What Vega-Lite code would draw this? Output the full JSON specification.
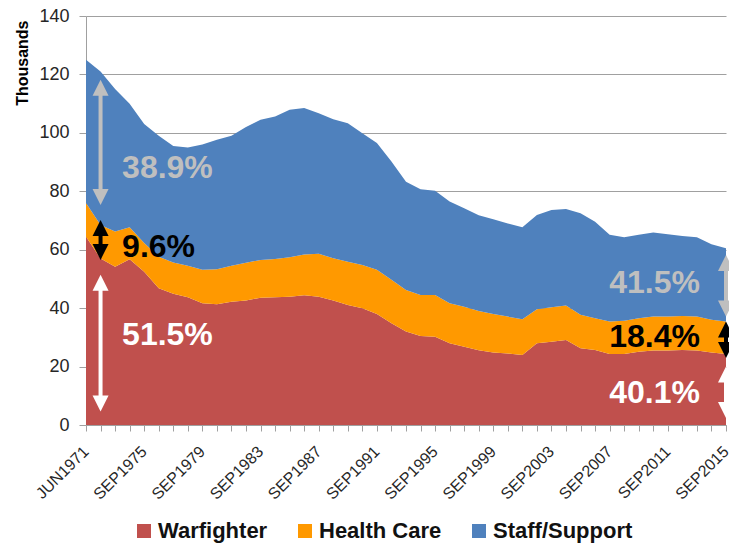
{
  "$schema": "https://vega.github.io/schema/vega-lite/v6.json",
  "autosize": {"type": "none"},
  "padding": {"left": 86, "top": 16, "right": 3, "bottom": 118},
  "width": 640,
  "height": 409,
  "background": "white",
  "config": {
    "font": "Liberation Sans",
    "view": {"stroke": null}
  },
  "datasets": {
    "seriesOrder": [
      {"series": "Warfighter", "rank": 1},
      {"series": "Health Care", "rank": 2},
      {"series": "Staff/Support", "rank": 3}
    ],
    "main": [
      {"period": "JUN1971", "series": "Warfighter", "value": 64.4}, {"period": "JUN1971", "series": "Health Care", "value": 11.6}, {"period": "JUN1971", "series": "Staff/Support", "value": 49.0},
      {"period": "SEP1972", "series": "Warfighter", "value": 57.0}, {"period": "SEP1972", "series": "Health Care", "value": 11.5}, {"period": "SEP1972", "series": "Staff/Support", "value": 52.5},
      {"period": "SEP1973", "series": "Warfighter", "value": 54.2}, {"period": "SEP1973", "series": "Health Care", "value": 12.0}, {"period": "SEP1973", "series": "Staff/Support", "value": 48.8},
      {"period": "SEP1974", "series": "Warfighter", "value": 56.7}, {"period": "SEP1974", "series": "Health Care", "value": 11.0}, {"period": "SEP1974", "series": "Staff/Support", "value": 42.3},
      {"period": "SEP1975", "series": "Warfighter", "value": 52.5}, {"period": "SEP1975", "series": "Health Care", "value": 9.8}, {"period": "SEP1975", "series": "Staff/Support", "value": 40.7},
      {"period": "SEP1976", "series": "Warfighter", "value": 46.8}, {"period": "SEP1976", "series": "Health Care", "value": 10.8}, {"period": "SEP1976", "series": "Staff/Support", "value": 41.4},
      {"period": "SEP1977", "series": "Warfighter", "value": 44.9}, {"period": "SEP1977", "series": "Health Care", "value": 10.7}, {"period": "SEP1977", "series": "Staff/Support", "value": 39.9},
      {"period": "SEP1978", "series": "Warfighter", "value": 43.7}, {"period": "SEP1978", "series": "Health Care", "value": 10.8}, {"period": "SEP1978", "series": "Staff/Support", "value": 40.5},
      {"period": "SEP1979", "series": "Warfighter", "value": 41.7}, {"period": "SEP1979", "series": "Health Care", "value": 11.4}, {"period": "SEP1979", "series": "Staff/Support", "value": 42.9},
      {"period": "SEP1980", "series": "Warfighter", "value": 41.3}, {"period": "SEP1980", "series": "Health Care", "value": 12.0}, {"period": "SEP1980", "series": "Staff/Support", "value": 44.3},
      {"period": "SEP1981", "series": "Warfighter", "value": 42.2}, {"period": "SEP1981", "series": "Health Care", "value": 12.3}, {"period": "SEP1981", "series": "Staff/Support", "value": 44.5},
      {"period": "SEP1982", "series": "Warfighter", "value": 42.6}, {"period": "SEP1982", "series": "Health Care", "value": 12.9}, {"period": "SEP1982", "series": "Staff/Support", "value": 46.5},
      {"period": "SEP1983", "series": "Warfighter", "value": 43.6}, {"period": "SEP1983", "series": "Health Care", "value": 12.9}, {"period": "SEP1983", "series": "Staff/Support", "value": 48.0},
      {"period": "SEP1984", "series": "Warfighter", "value": 43.7}, {"period": "SEP1984", "series": "Health Care", "value": 13.1}, {"period": "SEP1984", "series": "Staff/Support", "value": 48.8},
      {"period": "SEP1985", "series": "Warfighter", "value": 43.9}, {"period": "SEP1985", "series": "Health Care", "value": 13.5}, {"period": "SEP1985", "series": "Staff/Support", "value": 50.5},
      {"period": "SEP1986", "series": "Warfighter", "value": 44.4}, {"period": "SEP1986", "series": "Health Care", "value": 14.0}, {"period": "SEP1986", "series": "Staff/Support", "value": 50.1},
      {"period": "SEP1987", "series": "Warfighter", "value": 43.9}, {"period": "SEP1987", "series": "Health Care", "value": 14.7}, {"period": "SEP1987", "series": "Staff/Support", "value": 48.1},
      {"period": "SEP1988", "series": "Warfighter", "value": 42.6}, {"period": "SEP1988", "series": "Health Care", "value": 14.5}, {"period": "SEP1988", "series": "Staff/Support", "value": 47.6},
      {"period": "SEP1989", "series": "Warfighter", "value": 41.1}, {"period": "SEP1989", "series": "Health Care", "value": 14.8}, {"period": "SEP1989", "series": "Staff/Support", "value": 47.4},
      {"period": "SEP1990", "series": "Warfighter", "value": 40.0}, {"period": "SEP1990", "series": "Health Care", "value": 14.8}, {"period": "SEP1990", "series": "Staff/Support", "value": 45.1},
      {"period": "SEP1991", "series": "Warfighter", "value": 38.0}, {"period": "SEP1991", "series": "Health Care", "value": 15.1}, {"period": "SEP1991", "series": "Staff/Support", "value": 43.4},
      {"period": "SEP1992", "series": "Warfighter", "value": 34.8}, {"period": "SEP1992", "series": "Health Care", "value": 14.9}, {"period": "SEP1992", "series": "Staff/Support", "value": 40.5},
      {"period": "SEP1993", "series": "Warfighter", "value": 32.0}, {"period": "SEP1993", "series": "Health Care", "value": 14.2}, {"period": "SEP1993", "series": "Staff/Support", "value": 37.1},
      {"period": "SEP1994", "series": "Warfighter", "value": 30.5}, {"period": "SEP1994", "series": "Health Care", "value": 14.0}, {"period": "SEP1994", "series": "Staff/Support", "value": 36.2},
      {"period": "SEP1995", "series": "Warfighter", "value": 30.2}, {"period": "SEP1995", "series": "Health Care", "value": 14.3}, {"period": "SEP1995", "series": "Staff/Support", "value": 35.7},
      {"period": "SEP1996", "series": "Warfighter", "value": 28.0}, {"period": "SEP1996", "series": "Health Care", "value": 13.7}, {"period": "SEP1996", "series": "Staff/Support", "value": 34.8},
      {"period": "SEP1997", "series": "Warfighter", "value": 26.8}, {"period": "SEP1997", "series": "Health Care", "value": 13.7}, {"period": "SEP1997", "series": "Staff/Support", "value": 33.7},
      {"period": "SEP1998", "series": "Warfighter", "value": 25.6}, {"period": "SEP1998", "series": "Health Care", "value": 13.4}, {"period": "SEP1998", "series": "Staff/Support", "value": 32.8},
      {"period": "SEP1999", "series": "Warfighter", "value": 24.8}, {"period": "SEP1999", "series": "Health Care", "value": 13.2}, {"period": "SEP1999", "series": "Staff/Support", "value": 32.4},
      {"period": "SEP2000", "series": "Warfighter", "value": 24.5}, {"period": "SEP2000", "series": "Health Care", "value": 12.6}, {"period": "SEP2000", "series": "Staff/Support", "value": 31.9},
      {"period": "SEP2001", "series": "Warfighter", "value": 24.0}, {"period": "SEP2001", "series": "Health Care", "value": 12.2}, {"period": "SEP2001", "series": "Staff/Support", "value": 31.5},
      {"period": "SEP2002", "series": "Warfighter", "value": 28.0}, {"period": "SEP2002", "series": "Health Care", "value": 11.6}, {"period": "SEP2002", "series": "Staff/Support", "value": 32.3},
      {"period": "SEP2003", "series": "Warfighter", "value": 28.5}, {"period": "SEP2003", "series": "Health Care", "value": 11.8}, {"period": "SEP2003", "series": "Staff/Support", "value": 33.3},
      {"period": "SEP2004", "series": "Warfighter", "value": 29.1}, {"period": "SEP2004", "series": "Health Care", "value": 11.8}, {"period": "SEP2004", "series": "Staff/Support", "value": 33.0},
      {"period": "SEP2005", "series": "Warfighter", "value": 26.3}, {"period": "SEP2005", "series": "Health Care", "value": 11.4}, {"period": "SEP2005", "series": "Staff/Support", "value": 34.8},
      {"period": "SEP2006", "series": "Warfighter", "value": 25.7}, {"period": "SEP2006", "series": "Health Care", "value": 10.8}, {"period": "SEP2006", "series": "Staff/Support", "value": 33.1},
      {"period": "SEP2007", "series": "Warfighter", "value": 24.3}, {"period": "SEP2007", "series": "Health Care", "value": 11.1}, {"period": "SEP2007", "series": "Staff/Support", "value": 29.7},
      {"period": "SEP2008", "series": "Warfighter", "value": 24.3}, {"period": "SEP2008", "series": "Health Care", "value": 11.4}, {"period": "SEP2008", "series": "Staff/Support", "value": 28.6},
      {"period": "SEP2009", "series": "Warfighter", "value": 25.1}, {"period": "SEP2009", "series": "Health Care", "value": 11.4}, {"period": "SEP2009", "series": "Staff/Support", "value": 28.6},
      {"period": "SEP2010", "series": "Warfighter", "value": 25.5}, {"period": "SEP2010", "series": "Health Care", "value": 11.6}, {"period": "SEP2010", "series": "Staff/Support", "value": 28.8},
      {"period": "SEP2011", "series": "Warfighter", "value": 25.5}, {"period": "SEP2011", "series": "Health Care", "value": 11.6}, {"period": "SEP2011", "series": "Staff/Support", "value": 28.2},
      {"period": "SEP2012", "series": "Warfighter", "value": 25.7}, {"period": "SEP2012", "series": "Health Care", "value": 11.6}, {"period": "SEP2012", "series": "Staff/Support", "value": 27.4},
      {"period": "SEP2013", "series": "Warfighter", "value": 25.5}, {"period": "SEP2013", "series": "Health Care", "value": 11.6}, {"period": "SEP2013", "series": "Staff/Support", "value": 27.2},
      {"period": "SEP2014", "series": "Warfighter", "value": 24.8}, {"period": "SEP2014", "series": "Health Care", "value": 11.2}, {"period": "SEP2014", "series": "Staff/Support", "value": 25.9},
      {"period": "SEP2015", "series": "Warfighter", "value": 24.3}, {"period": "SEP2015", "series": "Health Care", "value": 11.1}, {"period": "SEP2015", "series": "Staff/Support", "value": 25.1}
    ],
    "arrows": [
      {"period": "SEP1972", "top": 118.2, "bottom": 75.3, "tone": "gray"},
      {"period": "SEP1972", "top": 70.2, "bottom": 56.5, "tone": "black"},
      {"period": "SEP1972", "top": 51.4, "bottom": 4.6, "tone": "white"},
      {"period": "SEP2015", "top": 58.2, "bottom": 37.1, "tone": "gray"},
      {"period": "SEP2015", "top": 35.4, "bottom": 22.9, "tone": "black"},
      {"period": "SEP2015", "top": 20.0, "bottom": 2.4, "tone": "white"}
    ],
    "labels": [
      {"period": "SEP1973", "value": 88.0, "label": "38.9%", "tone": "gray", "side": "left"},
      {"period": "SEP1973", "value": 61.1, "label": "9.6%", "tone": "black", "side": "left"},
      {"period": "SEP1973", "value": 30.8, "label": "51.5%", "tone": "white", "side": "left"},
      {"period": "SEP2013", "value": 48.6, "label": "41.5%", "tone": "gray", "side": "right"},
      {"period": "SEP2013", "value": 30.2, "label": "18.4%", "tone": "black", "side": "right"},
      {"period": "SEP2013", "value": 10.8, "label": "40.1%", "tone": "white", "side": "right"}
    ]
  },
  "encoding": {
    "x": {
      "field": "period",
      "type": "ordinal",
      "scale": {"type": "point", "padding": 0},
      "axis": {
        "title": null,
        "labelAngle": -45,
        "labelFontSize": 16,
        "labelColor": "#262626",
        "labelExpr": "indexof(['JUN1971','SEP1975','SEP1979','SEP1983','SEP1987','SEP1991','SEP1995','SEP1999','SEP2003','SEP2007','SEP2011','SEP2015'], datum.value) >= 0 ? datum.value : ''",
        "labelPadding": 12,
        "labelOffset": -6,
        "tickSize": 6,
        "tickColor": "#A0A0A0",
        "domainColor": "#A0A0A0",
        "grid": false,
        "labelOverlap": false,
        "labelBound": false
      }
    }
  },
  "layer": [
    {
      "data": {"name": "main"},
      "transform": [
        {"lookup": "series", "from": {"data": {"name": "seriesOrder"}, "key": "series", "fields": ["rank"]}}
      ],
      "mark": {"type": "area", "interpolate": "linear"},
      "encoding": {
        "y": {
          "field": "value",
          "type": "quantitative",
          "stack": "zero",
          "scale": {"domain": [0, 140], "nice": false},
          "axis": {
            "title": "Thousands",
            "titleFontSize": 16,
            "titleFontWeight": "bold",
            "titleColor": "#000000",
            "titleAngle": -90,
            "titleX": -64,
            "titleY": 4,
            "titleAlign": "right",
            "titleBaseline": "middle",
            "values": [0, 20, 40, 60, 80, 100, 120, 140],
            "labelFontSize": 18,
            "labelColor": "#262626",
            "labelPadding": 10,
            "tickSize": 7,
            "tickColor": "#A0A0A0",
            "domainColor": "#A0A0A0",
            "gridColor": "#A0A0A0",
            "gridWidth": 1
          }
        },
        "order": {"field": "rank", "type": "quantitative", "sort": "ascending"},
        "color": {
          "field": "series",
          "type": "nominal",
          "sort": ["Warfighter", "Health Care", "Staff/Support"],
          "scale": {
            "domain": ["Warfighter", "Health Care", "Staff/Support"],
            "range": ["#C0504D", "#FF9900", "#4F81BD"]
          },
          "legend": {
            "title": null,
            "orient": "none",
            "legendX": 47,
            "legendY": 504,
            "direction": "horizontal",
            "symbolType": "square",
            "symbolSize": 196,
            "symbolStrokeWidth": 0,
            "symbolOpacity": 1,
            "labelFontSize": 22,
            "labelFontWeight": "bold",
            "labelColor": "#111111",
            "labelOffset": 3,
            "columnPadding": 26,
            "padding": 0,
            "labelLimit": 400
          }
        }
      }
    },
    {
      "data": {"name": "arrows"},
      "mark": {"type": "rule", "strokeWidth": 4, "yOffset": 10, "y2Offset": -10},
      "encoding": {
        "y": {"field": "top", "type": "quantitative"},
        "y2": {"field": "bottom"},
        "color": {
          "field": "tone", "type": "nominal",
          "scale": {"domain": ["gray", "black", "white"], "range": ["#BFBFBF", "#000000", "#FFFFFF"]},
          "legend": null
        }
      }
    },
    {
      "data": {"name": "arrows"},
      "mark": {"type": "point", "filled": true, "opacity": 1, "strokeWidth": 0, "size": 1024, "shape": "M0,0L0.5,1L-0.5,1Z"},
      "encoding": {
        "y": {"field": "top", "type": "quantitative"},
        "color": {
          "field": "tone", "type": "nominal",
          "scale": {"domain": ["gray", "black", "white"], "range": ["#BFBFBF", "#000000", "#FFFFFF"]},
          "legend": null
        }
      }
    },
    {
      "data": {"name": "arrows"},
      "mark": {"type": "point", "filled": true, "opacity": 1, "strokeWidth": 0, "size": 1024, "shape": "M0,0L0.5,-1L-0.5,-1Z"},
      "encoding": {
        "y": {"field": "bottom", "type": "quantitative"},
        "color": {
          "field": "tone", "type": "nominal",
          "scale": {"domain": ["gray", "black", "white"], "range": ["#BFBFBF", "#000000", "#FFFFFF"]},
          "legend": null
        }
      }
    },
    {
      "data": {"name": "labels"},
      "transform": [{"filter": "datum.side === 'left'"}],
      "mark": {"type": "text", "align": "left", "baseline": "middle", "dx": 7, "fontSize": 32, "fontWeight": "bold"},
      "encoding": {
        "y": {"field": "value", "type": "quantitative"},
        "text": {"field": "label"},
        "color": {
          "field": "tone", "type": "nominal",
          "scale": {"domain": ["gray", "black", "white"], "range": ["#BFBFBF", "#000000", "#FFFFFF"]},
          "legend": null
        }
      }
    },
    {
      "data": {"name": "labels"},
      "transform": [{"filter": "datum.side === 'right'"}],
      "mark": {"type": "text", "align": "right", "baseline": "middle", "dx": 3, "fontSize": 32, "fontWeight": "bold"},
      "encoding": {
        "y": {"field": "value", "type": "quantitative"},
        "text": {"field": "label"},
        "color": {
          "field": "tone", "type": "nominal",
          "scale": {"domain": ["gray", "black", "white"], "range": ["#BFBFBF", "#000000", "#FFFFFF"]},
          "legend": null
        }
      }
    }
  ],
  "resolve": {"scale": {"color": "independent"}}
}
